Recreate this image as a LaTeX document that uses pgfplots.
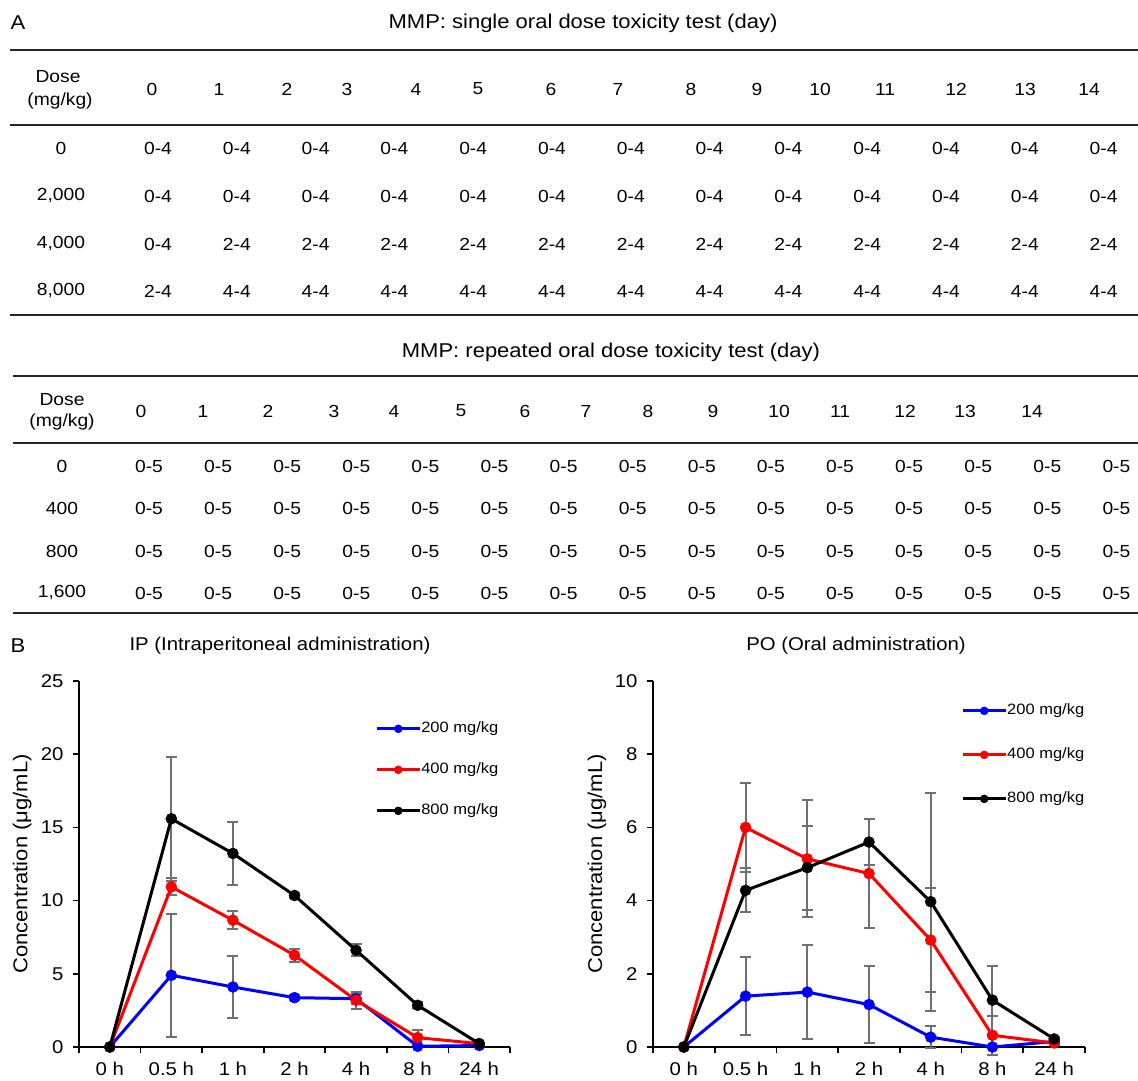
\documentclass[border=0pt]{standalone}
\usepackage{fontspec}
\setmainfont{Liberation Sans}[FakeStretch=1.1]
\usepackage{pgfplots}
\usepackage{pgfplotstable}
\pgfplotsset{compat=1.18}

\definecolor{errgray}{HTML}{6F6F6F}
\definecolor{rulegray}{HTML}{262626}

\newcommand\fA{\fontsize{17.5}{21}\selectfont}
\newcommand\fT{\fontsize{20}{24}\selectfont}
\newcommand\fP{\fontsize{18.5}{22}\selectfont}
\newcommand\fK{\fontsize{18.5}{22}\selectfont}
\newcommand\fL{\fontsize{20}{24}\selectfont}
\newcommand\fG{\fontsize{15}{18}\selectfont}

% IP (intraperitoneal): x = time index, y = mean, e = error
\pgfplotstableread{
x y e
0 0 0
1 4.9 4.2
2 4.1 2.15
3 3.37 0.15
4 3.3 0.35
5 0.05 0.05
6 0.1 0.05
}\ipblue
\pgfplotstableread{
x y e
0 0 0
1 10.94 0.57
2 8.66 0.6
3 6.27 0.43
4 3.19 0.6
5 0.64 0.55
6 0.23 0.05
}\ipred
\pgfplotstableread{
x y e
0 0 0
1 15.59 4.24
2 13.22 2.17
3 10.35 0.2
4 6.61 0.4
5 2.85 0.2
6 0.23 0.05
}\ipblack

% PO (oral)
\pgfplotstableread{
x y e
0 0 0
1 1.39 1.07
2 1.5 1.29
3 1.16 1.05
4 0.27 0.31
5 0 0
6 0.15 0.05
}\poblue
\pgfplotstableread{
x y e
0 0 0
1 6.0 1.22
2 5.14 1.6
3 4.74 1.5
4 2.92 1.43
5 0.32 0.54
6 0.11 0.05
}\pored
\pgfplotstableread{
x y e
0 0 0
1 4.28 0.6
2 4.9 1.15
3 5.6 0.63
4 3.97 2.98
5 1.28 0.92
6 0.22 0.05
}\poblack

\pgfplotsset{
  pk/.style={
    scale only axis, width=431pt, height=366pt,
    axis x line*=bottom, axis y line*=left,
    axis line style={line width=1.6pt, -},
    xmin=-0.5, xmax=6.5, ymin=0,
    xtick={0,...,6},
    xticklabels={0 h,0.5 h,1 h,2 h,4 h,8 h,24 h},
    minor xtick={-0.5,0.5,...,6.5},
    major x tick style={draw=none},
    tick align=outside,
    major tick length=6pt, minor tick length=6pt,
    every tick/.style={line width=1.6pt, black},
    /pgf/number format/assume math mode=true,
    tick label style={font=\fK},
    xticklabel style={yshift=-6pt},
    yticklabel style={xshift=-6pt},
    ylabel={Concentration (μg/mL)},
    ylabel style={font=\fL, anchor=center},
    clip=false,
    legend cell align=left,
    legend style={draw=none, fill=none, inner sep=0pt,
      font=\fG, nodes={inner sep=0pt, text height=11pt, text depth=3pt},
      /tikz/column 2/.style={column sep=4pt}, anchor=north west},
  },
  ln/.style={#1, line width=3pt, mark=*, mark size=5.5pt,
    mark options={solid, line width=0.5pt},
    legend image code/.code={\draw[mark repeat=2, mark phase=2, ##1, mark size=4pt]
      plot coordinates {(0pt,0pt) (21.5pt,0pt) (43pt,0pt)};}},
  eb/.style={forget plot, only marks, mark=none,
    error bars/.cd, y dir=both, y explicit,
    error bar style={line width=2pt, draw=errgray},
    error mark options={rotate=90, draw=errgray, mark size=5.5pt, line width=2pt}},
}

\begin{document}
\begin{tikzpicture}[x=1pt, y=1pt]
\path[use as bounding box] (0,0) rectangle (1138,1080);

\begin{scope}[y=-1pt, yshift=1080pt]
  % ---- table A ----
  \node[font=\fT] at (18,23) {A};
  \node[font=\fT] at (583,23) {MMP: single oral dose toxicity test (day)};
  \foreach \yy in {50,125,315}
    \draw[rulegray, line width=2.5pt] (10,\yy) -- (1138,\yy);
  \node[font=\fA] at (58,77) {Dose};
  \node[font=\fA] at (60,101) {(mg/kg)};
  \foreach \x [count=\i from 0] in {152,219,287,347,416,478,551,618,691,757,820,885,956,1025,1089}
    \node[font=\fA] at (\x,89) {\i};
  \foreach \r/\yy in {0/148,{2,000}/196,{4,000}/244,{8,000}/291}
    \node[font=\fA] at (61,\yy) {\r};
  \foreach \k in {0,...,12} {
    \node[font=\fA] at ({158+78.8*\k},148) {0-4};
    \node[font=\fA] at ({158+78.8*\k},196) {0-4};
  }
  \node[font=\fA] at (158,244) {0-4};
  \node[font=\fA] at (158,291) {2-4};
  \foreach \k in {1,...,12} {
    \node[font=\fA] at ({158+78.8*\k},244) {2-4};
    \node[font=\fA] at ({158+78.8*\k},291) {4-4};
  }

  % ---- table B ----
  \node[font=\fT] at (611,352) {MMP: repeated oral dose toxicity test (day)};
  \foreach \yy in {376,443,613}
    \draw[rulegray, line width=2.5pt] (13,\yy) -- (1138,\yy);
  \node[font=\fA] at (62,400) {Dose};
  \node[font=\fA] at (62,422) {(mg/kg)};
  \foreach \x [count=\i from 0] in {141,203,268,334,394,461,525,586,648,713,779,840,905,965,1032}
    \node[font=\fA] at (\x,411) {\i};
  \foreach \r/\yy in {0/466,400/508,800/551,{1,600}/593}
    \node[font=\fA] at (62,\yy) {\r};
  \foreach \yy in {466,508,551,593}
    \foreach \k in {0,...,14}
      \node[font=\fA] at ({149+69.1*\k},\yy) {0-5};

  % ---- panel B titles ----
  \node[font=\fT] at (18,646) {B};
  \node[font=\fP] at (280,646) {IP (Intraperitoneal administration)};
  \node[font=\fP] at (856,646) {PO (Oral administration)};
\end{scope}

% ---- IP plot ----
\begin{axis}[pk, at={(79pt,33pt)}, anchor=south west,
  ymax=25, ytick={0,5,...,25},
  ylabel style={at={(axis description cs:-0.132,0.5)}},
  legend style={at={(axis description cs:0.687,0.889)}, row sep=27pt}]
\addplot[eb] table[x=x, y=y, y error=e] {\ipblue};
\addplot[eb] table[x=x, y=y, y error=e] {\ipred};
\addplot[eb] table[x=x, y=y, y error=e] {\ipblack};
\addplot[ln=blue] table[x=x, y=y] {\ipblue};
\addplot[ln=red] table[x=x, y=y] {\ipred};
\addplot[ln=black] table[x=x, y=y] {\ipblack};
\legend{200 mg/kg, 400 mg/kg, 800 mg/kg}
\end{axis}

% ---- PO plot ----
\begin{axis}[pk, at={(653pt,33pt)}, anchor=south west, width=432pt,
  ymax=10, ytick={0,2,...,10},
  ylabel style={at={(axis description cs:-0.13,0.5)}},
  legend style={at={(axis description cs:0.713,0.938)}, row sep=30pt}]
\addplot[eb] table[x=x, y=y, y error=e] {\poblue};
\addplot[eb] table[x=x, y=y, y error=e] {\pored};
\addplot[eb] table[x=x, y=y, y error=e] {\poblack};
\addplot[ln=blue] table[x=x, y=y] {\poblue};
\addplot[ln=red] table[x=x, y=y] {\pored};
\addplot[ln=black] table[x=x, y=y] {\poblack};
\legend{200 mg/kg, 400 mg/kg, 800 mg/kg}
\end{axis}
\end{tikzpicture}
\end{document}
